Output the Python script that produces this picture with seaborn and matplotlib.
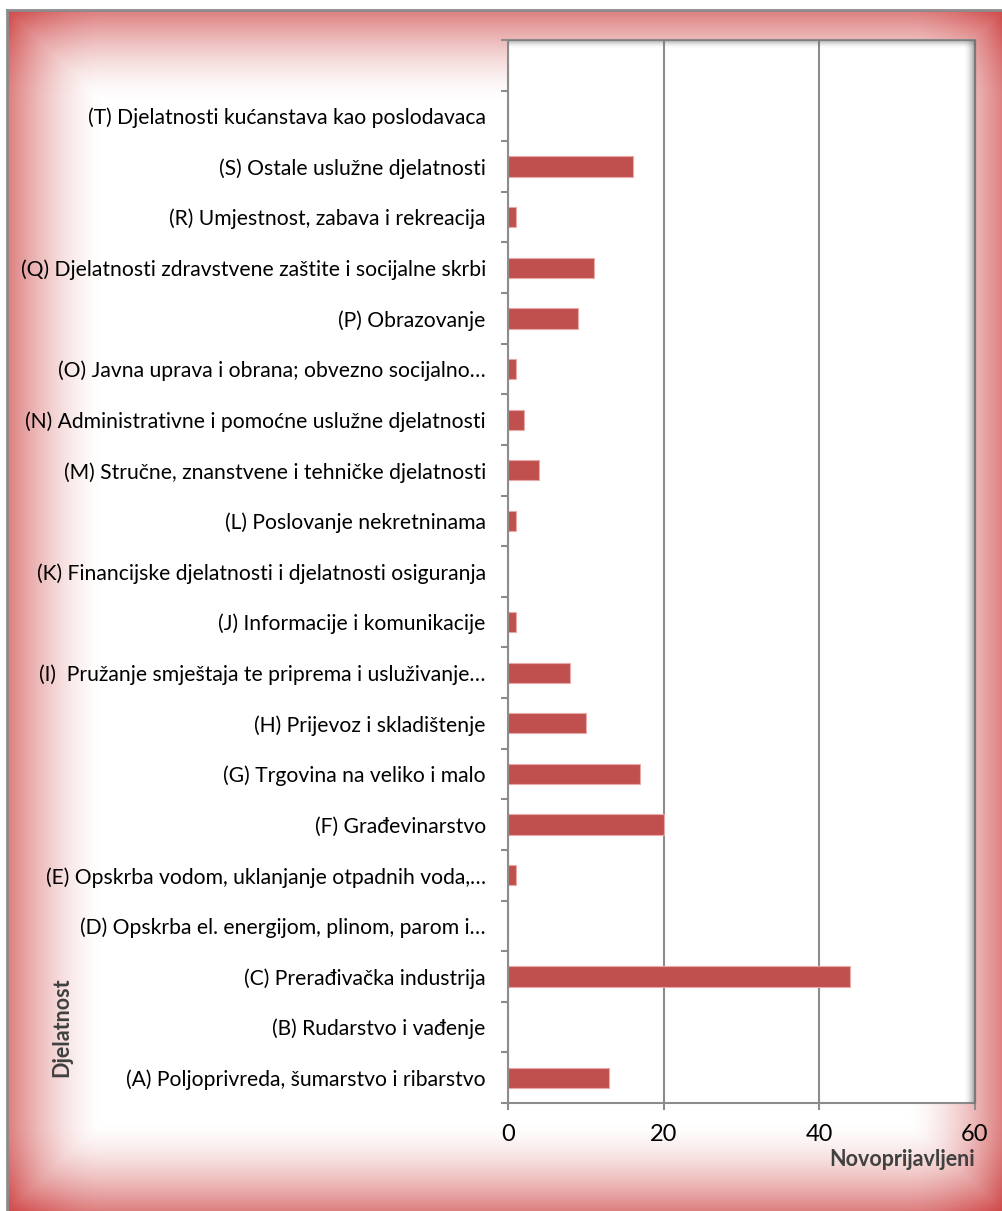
import numpy as np
import matplotlib
matplotlib.use("Agg")
import matplotlib.pyplot as plt
import seaborn as sns

# data, top to bottom as drawn
djelatnosti = [
    "(T) Djelatnosti kućanstava kao poslodavaca",
    "(S) Ostale uslužne djelatnosti",
    "(R) Umjestnost, zabava i rekreacija",
    "(Q) Djelatnosti zdravstvene zaštite i socijalne skrbi",
    "(P) Obrazovanje",
    "(O) Javna uprava i obrana; obvezno socijalno…",
    "(N) Administrativne i pomoćne uslužne djelatnosti",
    "(M) Stručne, znanstvene i tehničke djelatnosti",
    "(L) Poslovanje nekretninama",
    "(K) Financijske djelatnosti i djelatnosti osiguranja",
    "(J) Informacije i komunikacije",
    "(I)  Pružanje smještaja te priprema i usluživanje…",
    "(H) Prijevoz i skladištenje",
    "(G) Trgovina na veliko i malo",
    "(F) Građevinarstvo",
    "(E) Opskrba vodom, uklanjanje otpadnih voda,…",
    "(D) Opskrba el. energijom, plinom, parom i…",
    "(C) Prerađivačka industrija",
    "(B) Rudarstvo i vađenje",
    "(A) Poljoprivreda, šumarstvo i ribarstvo",
]
novoprijavljeni = [0, 16, 1, 11, 9, 1, 2, 4, 1, 0, 1, 8, 10, 17, 20, 1, 0, 44, 0, 13]
x_ticks = [0, 20, 40, 60]

sns.set_style("white")
plt.rcParams["font.family"] = ["Lato", "DejaVu Sans"]

GRAY = "#8c8c8c"
FW, FH = 1003, 1211

fig = plt.figure(figsize=(FW / 100, FH / 100), dpi=100)

# red frame with white centre (rectangular gradient)
W, H = 996, 1201
xx = np.arange(W)[None, :]
yy = np.arange(H)[:, None]
fx = np.clip(1 - np.minimum(xx, W - xx) / 95, 0, 1) ** 1.6
fy = np.clip(1 - np.minimum(yy, H - yy) / 90, 0, 1) ** 1.6
fx, fy = np.broadcast_arrays(fx, fy)
s = 0.7 * np.maximum(fx, fy) + 0.3 * np.minimum(fx, fy)
red = np.array([207, 70, 70]) / 255
img = 1 - s[..., None] * (1 - red)

bg = fig.add_axes([7 / FW, 0, W / FW, H / FH])
bg.imshow(img, aspect="auto", interpolation="bilinear")
bg.set_xticks([]); bg.set_yticks([])
for side in ["right", "bottom"]:
    bg.spines[side].set_visible(False)
for side in ["left", "top"]:
    bg.spines[side].set_color(GRAY)
    bg.spines[side].set_linewidth(2)

# plot area
ax = fig.add_axes([508 / FW, 1 - 1103 / FH, (975 - 508) / FW, (1103 - 40) / FH])
ax.set_facecolor("white")
sns.barplot(x=novoprijavljeni, y=djelatnosti, orient="h", color="#C0504D",
            saturation=1, width=0.4, edgecolor="#e8a9a7", linewidth=0.8, ax=ax)

ax.set_xlim(0, 60)
ax.set_xticks(x_ticks)
ax.set_ylim(len(djelatnosti) - 0.5, -1.5)
ax.set_yticks(np.arange(-1.5, len(djelatnosti)), minor=True)
ax.xaxis.grid(True, color=GRAY, linewidth=1.5)
ax.set_axisbelow(True)

ax.tick_params(axis="y", which="major", length=0, pad=16, labelsize=15.2, labelcolor="black")
ax.tick_params(axis="y", which="minor", length=5, width=1.5, color=GRAY, left=True)
ax.tick_params(axis="x", length=5, width=1.5, color=GRAY, pad=10, labelsize=17,
               bottom=True, labelcolor="black")

for side in ["left", "bottom", "top", "right"]:
    ax.spines[side].set_color(GRAY)
    ax.spines[side].set_linewidth(1.5)

# shadow on the top and right edges of plot area
for i in range(12):
    a = 0.6 * (1 - i / 12) ** 2
    ax.plot([1 - i / 467] * 2, [0, 1], transform=ax.transAxes, color="#707070",
            alpha=a, lw=1, clip_on=False, zorder=5)
for i in range(8):
    a = 0.45 * (1 - i / 8) ** 2
    ax.plot([0, 1], [1 - i / 1063] * 2, transform=ax.transAxes, color="#707070",
            alpha=a, lw=1, clip_on=False, zorder=5)

ax.set_ylabel("")
ax.set_xlabel("Novoprijavljeni", loc="right", fontweight="bold", color="#404040",
              fontsize=15.5, labelpad=3)
fig.text(62 / FW, 1 - 1077 / FH, "Djelatnost", rotation=90, ha="center", va="bottom",
         fontweight="bold", color="#404040", fontsize=15.5)

fig.savefig("out.png", dpi=100)
